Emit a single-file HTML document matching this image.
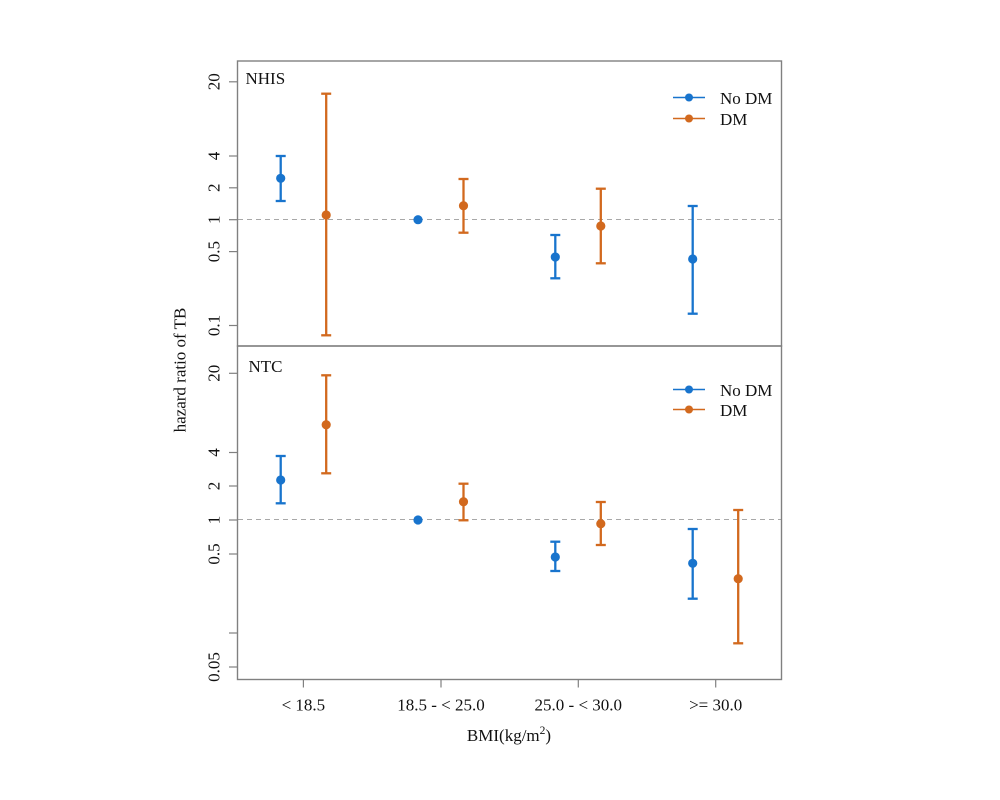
<!DOCTYPE html>
<html>
<head>
<meta charset="utf-8">
<style>
html,body{margin:0;padding:0;background:#fff;}
svg{display:block;}
text{font-family:"Liberation Serif","Times New Roman",serif;fill:#111;}
</style>
</head>
<body>
<svg width="1000" height="800" viewBox="0 0 1000 800" xmlns="http://www.w3.org/2000/svg">
<rect x="0" y="0" width="1000" height="800" fill="#fff"/>

<!-- dashed reference lines -->
<line x1="238" y1="219.5" x2="781" y2="219.5" stroke="#a8a8a8" stroke-width="1.1" stroke-dasharray="5,4"/>
<line x1="238" y1="519.5" x2="781" y2="519.5" stroke="#a8a8a8" stroke-width="1.1" stroke-dasharray="5,4"/>

<!-- panel frames -->
<rect x="237.5" y="61" width="544" height="285" fill="none" stroke="#808080" stroke-width="1.4"/>
<rect x="237.5" y="346" width="544" height="333.5" fill="none" stroke="#808080" stroke-width="1.4"/>

<!-- ticks -->
<g stroke="#808080" stroke-width="1.2">
<line x1="229" y1="81.8" x2="237.5" y2="81.8"/>
<line x1="229" y1="156" x2="237.5" y2="156"/>
<line x1="229" y1="187.8" x2="237.5" y2="187.8"/>
<line x1="229" y1="219.7" x2="237.5" y2="219.7"/>
<line x1="229" y1="251.6" x2="237.5" y2="251.6"/>
<line x1="229" y1="325.5" x2="237.5" y2="325.5"/>
<line x1="229" y1="373.3" x2="237.5" y2="373.3"/>
<line x1="229" y1="452.5" x2="237.5" y2="452.5"/>
<line x1="229" y1="486" x2="237.5" y2="486"/>
<line x1="229" y1="520" x2="237.5" y2="520"/>
<line x1="229" y1="554" x2="237.5" y2="554"/>
<line x1="229" y1="633" x2="237.5" y2="633"/>
<line x1="229" y1="667" x2="237.5" y2="667"/>
<line x1="303.4" y1="679.5" x2="303.4" y2="687.5"/>
<line x1="441" y1="679.5" x2="441" y2="687.5"/>
<line x1="578.3" y1="679.5" x2="578.3" y2="687.5"/>
<line x1="715.7" y1="679.5" x2="715.7" y2="687.5"/>
</g>

<!-- y tick labels -->
<g font-size="17" text-anchor="middle">
<text transform="translate(219.5,81.8) rotate(-90)">20</text>
<text transform="translate(219.5,156) rotate(-90)">4</text>
<text transform="translate(219.5,187.8) rotate(-90)">2</text>
<text transform="translate(219.5,219.7) rotate(-90)">1</text>
<text transform="translate(219.5,251.6) rotate(-90)">0.5</text>
<text transform="translate(219.5,325.5) rotate(-90)">0.1</text>
<text transform="translate(219.5,373.3) rotate(-90)">20</text>
<text transform="translate(219.5,452.5) rotate(-90)">4</text>
<text transform="translate(219.5,486) rotate(-90)">2</text>
<text transform="translate(219.5,520) rotate(-90)">1</text>
<text transform="translate(219.5,554) rotate(-90)">0.5</text>
<text transform="translate(219.5,667) rotate(-90)">0.05</text>
</g>

<!-- y axis title -->
<text font-size="17" text-anchor="middle" transform="translate(185.5,370) rotate(-90)">hazard ratio of TB</text>

<!-- x tick labels -->
<g font-size="17" text-anchor="middle">
<text x="303.4" y="710.5">&lt; 18.5</text>
<text x="441" y="710.5">18.5 - &lt; 25.0</text>
<text x="578.3" y="710.5">25.0 - &lt; 30.0</text>
<text x="715.7" y="710.5">&gt;= 30.0</text>
</g>
<!-- x axis title -->
<text x="509" y="741" font-size="17" text-anchor="middle">BMI(kg/m<tspan font-size="11.5" dy="-7">2</tspan><tspan dy="7">)</tspan></text>

<!-- panel labels -->
<text x="245.5" y="84" font-size="17">NHIS</text>
<text x="248.5" y="372" font-size="17">NTC</text>

<!-- legends -->
<g stroke-width="1.6">
<line x1="673" y1="97.5" x2="705" y2="97.5" stroke="#1874CD"/>
<line x1="673" y1="118.5" x2="705" y2="118.5" stroke="#D2691E"/>
<line x1="673" y1="389.5" x2="705" y2="389.5" stroke="#1874CD"/>
<line x1="673" y1="409.5" x2="705" y2="409.5" stroke="#D2691E"/>
</g>
<circle cx="689" cy="97.5" r="4" fill="#1874CD"/>
<circle cx="689" cy="118.5" r="4" fill="#D2691E"/>
<circle cx="689" cy="389.5" r="4" fill="#1874CD"/>
<circle cx="689" cy="409.5" r="4" fill="#D2691E"/>
<g font-size="17">
<text x="720" y="104">No DM</text>
<text x="720" y="124.8">DM</text>
<text x="720" y="396">No DM</text>
<text x="720" y="416">DM</text>
</g>

<!-- TOP PANEL series -->
<g stroke="#1874CD" stroke-width="2.3" fill="none">
<line x1="280.7" y1="156" x2="280.7" y2="201"/><line x1="275.7" y1="156" x2="285.7" y2="156"/><line x1="275.7" y1="201" x2="285.7" y2="201"/>
<line x1="555.3" y1="235" x2="555.3" y2="278.3"/><line x1="550.3" y1="235" x2="560.3" y2="235"/><line x1="550.3" y1="278.3" x2="560.3" y2="278.3"/>
<line x1="692.7" y1="206" x2="692.7" y2="313.7"/><line x1="687.7" y1="206" x2="697.7" y2="206"/><line x1="687.7" y1="313.7" x2="697.7" y2="313.7"/>
</g>
<g fill="#1874CD">
<circle cx="280.7" cy="178.3" r="4.6"/>
<circle cx="418" cy="219.7" r="4.6"/>
<circle cx="555.3" cy="257" r="4.6"/>
<circle cx="692.7" cy="259" r="4.6"/>
</g>
<g stroke="#D2691E" stroke-width="2.3" fill="none">
<line x1="326.2" y1="93.7" x2="326.2" y2="335.3"/><line x1="321.2" y1="93.7" x2="331.2" y2="93.7"/><line x1="321.2" y1="335.3" x2="331.2" y2="335.3"/>
<line x1="463.5" y1="179" x2="463.5" y2="232.7"/><line x1="458.5" y1="179" x2="468.5" y2="179"/><line x1="458.5" y1="232.7" x2="468.5" y2="232.7"/>
<line x1="600.8" y1="188.7" x2="600.8" y2="263.3"/><line x1="595.8" y1="188.7" x2="605.8" y2="188.7"/><line x1="595.8" y1="263.3" x2="605.8" y2="263.3"/>
</g>
<g fill="#D2691E">
<circle cx="326.2" cy="215" r="4.6"/>
<circle cx="463.5" cy="205.7" r="4.6"/>
<circle cx="600.8" cy="226" r="4.6"/>
</g>

<!-- BOTTOM PANEL series -->
<g stroke="#1874CD" stroke-width="2.3" fill="none">
<line x1="280.7" y1="456" x2="280.7" y2="503.3"/><line x1="275.7" y1="456" x2="285.7" y2="456"/><line x1="275.7" y1="503.3" x2="285.7" y2="503.3"/>
<line x1="555.3" y1="541.7" x2="555.3" y2="571"/><line x1="550.3" y1="541.7" x2="560.3" y2="541.7"/><line x1="550.3" y1="571" x2="560.3" y2="571"/>
<line x1="692.7" y1="529" x2="692.7" y2="598.7"/><line x1="687.7" y1="529" x2="697.7" y2="529"/><line x1="687.7" y1="598.7" x2="697.7" y2="598.7"/>
</g>
<g fill="#1874CD">
<circle cx="280.7" cy="480" r="4.6"/>
<circle cx="418" cy="520" r="4.6"/>
<circle cx="555.3" cy="557" r="4.6"/>
<circle cx="692.7" cy="563.3" r="4.6"/>
</g>
<g stroke="#D2691E" stroke-width="2.3" fill="none">
<line x1="326.2" y1="375.3" x2="326.2" y2="473.3"/><line x1="321.2" y1="375.3" x2="331.2" y2="375.3"/><line x1="321.2" y1="473.3" x2="331.2" y2="473.3"/>
<line x1="463.5" y1="483.7" x2="463.5" y2="520.3"/><line x1="458.5" y1="483.7" x2="468.5" y2="483.7"/><line x1="458.5" y1="520.3" x2="468.5" y2="520.3"/>
<line x1="600.8" y1="502" x2="600.8" y2="545"/><line x1="595.8" y1="502" x2="605.8" y2="502"/><line x1="595.8" y1="545" x2="605.8" y2="545"/>
<line x1="738.2" y1="510" x2="738.2" y2="643.3"/><line x1="733.2" y1="510" x2="743.2" y2="510"/><line x1="733.2" y1="643.3" x2="743.2" y2="643.3"/>
</g>
<g fill="#D2691E">
<circle cx="326.2" cy="424.7" r="4.6"/>
<circle cx="463.5" cy="501.7" r="4.6"/>
<circle cx="600.8" cy="523.7" r="4.6"/>
<circle cx="738.2" cy="578.7" r="4.6"/>
</g>
</svg>
</body>
</html>
